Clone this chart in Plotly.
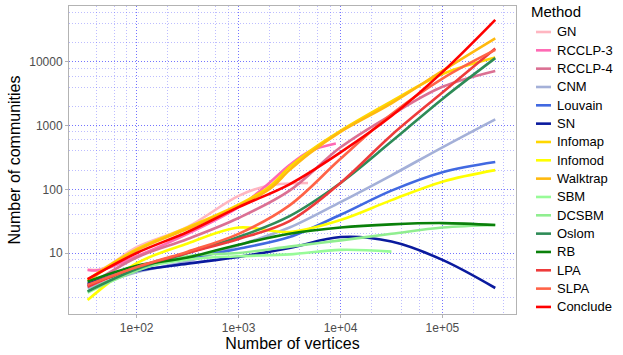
import plotly.graph_objects as go

# Vertex counts at which the smoothed curves are read
X = [33, 100, 316, 1000, 3160, 10000, 31600, 100000, 330000]
X_GN = [33, 45, 100, 316, 1000, 2000, 4800]
X_RCCLP3 = [33, 45, 100, 316, 1000, 2000, 3160, 5000, 9000]
X_SBM = [33, 100, 316, 1000, 3160, 10000, 31600]
X_INFO = [33, 100, 316, 1000, 2000, 3160, 5000, 10000, 31600, 100000, 330000]

GN = [5.5, 5.6, 12.3, 25.7, 79, 115, 126]
RCCLP3 = [5.4, 5.4, 8.9, 20, 52.5, 126, 240, 398, 525]
RCCLP4 = [3.0, 8.5, 16.6, 35.5, 95.5, 457, 1479, 4074, 7244]
CNM = [2.8, 5.0, 7.4, 13.2, 25.1, 63, 166, 457, 1259]
LOUVAIN = [3.16, 6.0, 8.3, 11.7, 17.8, 39.8, 95.5, 186, 269]
SN = [3.3, 5.25, 6.8, 8.7, 12.0, 17.8, 15.1, 7.8, 2.82]
INFOMAP = [3.8, 11.5, 25.1, 57.5, 110, 224, 400, 830, 2400, 6457, 11749]
INFOMOD = [1.82, 6.9, 14.1, 25.1, 21.4, 33, 67.6, 132, 200]
WALKTRAP = [3.63, 11, 24, 55, 100, 200, 370, 800, 2240, 7244, 23442]
SBM = [2.5, 5.5, 7.9, 8.9, 9.5, 11.2, 10.5]
DCSBM = [2.4, 5.25, 8.9, 10, 12.6, 15.8, 20, 25.1, 27.5]
OSLOM = [2.5, 5.6, 10, 17.8, 38, 126, 562, 2630, 11482]
RB = [3.55, 6.3, 8.5, 13.5, 20, 25.1, 28.2, 29.5, 27.5]
LPA = [2.95, 6.0, 10, 16.6, 31.6, 126, 708, 3311, 16218]
SLPA = [3.16, 6.0, 10.5, 20, 56, 302, 1514, 5495, 15488]
CONCLUDE = [3.89, 10, 21.4, 52.5, 120, 380, 1413, 6918, 45709]

METHODS = ["GN", "RCCLP-3", "RCCLP-4", "CNM", "Louvain", "SN", "Infomap", "Infomod",
           "Walktrap", "SBM", "DCSBM", "Oslom", "RB", "LPA", "SLPA", "Conclude"]
SERIES = [(X_GN, GN), (X_RCCLP3, RCCLP3), (X, RCCLP4), (X, CNM), (X, LOUVAIN), (X, SN),
          (X_INFO, INFOMAP), (X, INFOMOD), (X_INFO, WALKTRAP), (X_SBM, SBM), (X, DCSBM), (X, OSLOM),
          (X, RB), (X, LPA), (X, SLPA), (X, CONCLUDE)]
COLORS = ["#FFB6C1", "#FF69B4", "#DB7093", "#A4B0D8", "#4169E1", "#0A1A9E", "#FFD700", "#FFFF00",
          "#FFB90F", "#98FB98", "#90EE90", "#2E8B57", "#0A800A", "#EE3B3B", "#FF6347", "#FF0000"]

X_TICKS = [100, 1000, 10000, 100000]
X_TICK_LABELS = ["1e+02", "1e+03", "1e+04", "1e+05"]
Y_TICKS = [10, 100, 1000, 10000]
Y_TICK_LABELS = ["10", "100", "1000", "10000"]

minor_x = [m * 10 ** k for k in range(1, 6) for m in (2, 4, 6, 8)]
minor_y = [m * 10 ** k for k in range(0, 5) for m in (2, 4, 6, 8)]

W, H = 623, 355
ML, MR, MT, MB = 69, 107, 6, 41
PW, PH = W - ML - MR, H - MT - MB
FONT = "Liberation Sans, Arial, sans-serif"
MAJOR_GRID = "rgba(70,70,255,0.75)"
MINOR_GRID = "rgba(90,90,255,0.40)"
GRID_DASH = "1px,2px"


def px_x(px):
    return (px - ML) / PW


def px_y(py):
    return (H - MB - py) / PH


fig = go.Figure()
for name, (xs, ys), col in zip(METHODS, SERIES, COLORS):
    fig.add_trace(go.Scatter(x=xs, y=ys, mode="lines", name=name, showlegend=False,
                             line=dict(color=col, width=2.6, shape="spline", smoothing=1.0)))

axis_common = dict(
    type="log", showline=True, mirror=True, linecolor="#B3B3B3", linewidth=1,
    ticks="outside", ticklen=3, tickcolor="#B3B3B3", automargin=False,
    gridcolor=MAJOR_GRID, griddash=GRID_DASH, gridwidth=1,
    tickfont=dict(family=FONT, size=12, color="#4D4D4D"),
    zeroline=False,
)

fig.update_xaxes(**axis_common, range=[1.336, 5.722], tickmode="array",
                 tickvals=X_TICKS, ticktext=X_TICK_LABELS,
                 minor=dict(tickmode="array", tickvals=minor_x, showgrid=True,
                            gridcolor=MINOR_GRID, griddash=GRID_DASH, gridwidth=1, ticks=""),
                 title=dict(text="Number of vertices", standoff=2,
                            font=dict(family=FONT, size=16, color="#000")))
fig.update_yaxes(**axis_common, range=[0.042, 4.879], tickmode="array",
                 tickvals=Y_TICKS, ticktext=Y_TICK_LABELS,
                 minor=dict(tickmode="array", tickvals=minor_y, showgrid=True,
                            gridcolor=MINOR_GRID, griddash=GRID_DASH, gridwidth=1, ticks=""),
                 title=dict(text="Number of communities", standoff=4,
                            font=dict(family=FONT, size=16, color="#000")))

# Legend drawn beside the panel (ggplot style), one key per method
shapes = []
annotations = [dict(text="Method", xref="paper", yref="paper", x=px_x(529), y=px_y(12),
                    xanchor="left", yanchor="middle", showarrow=False,
                    font=dict(family=FONT, size=15, color="#000"))]
for i, (name, col) in enumerate(zip(METHODS, COLORS)):
    cy = 32 + i * 18.33
    shapes.append(dict(type="line", xref="paper", yref="paper",
                       x0=px_x(536), x1=px_x(551), y0=px_y(cy), y1=px_y(cy),
                       line=dict(color=col, width=2.6)))
    annotations.append(dict(text=name, xref="paper", yref="paper", x=px_x(555), y=px_y(cy),
                            xanchor="left", yanchor="middle", showarrow=False,
                            font=dict(family=FONT, size=13, color="#000")))

fig.update_layout(
    width=W, height=H,
    margin=dict(l=ML, r=MR, t=MT, b=MB),
    plot_bgcolor="white", paper_bgcolor="white",
    font=dict(family=FONT),
    showlegend=False,
    shapes=shapes, annotations=annotations,
)

fig.write_html("out.html", config={"displayModeBar": False},
               post_script="document.body.style.margin='0';")
